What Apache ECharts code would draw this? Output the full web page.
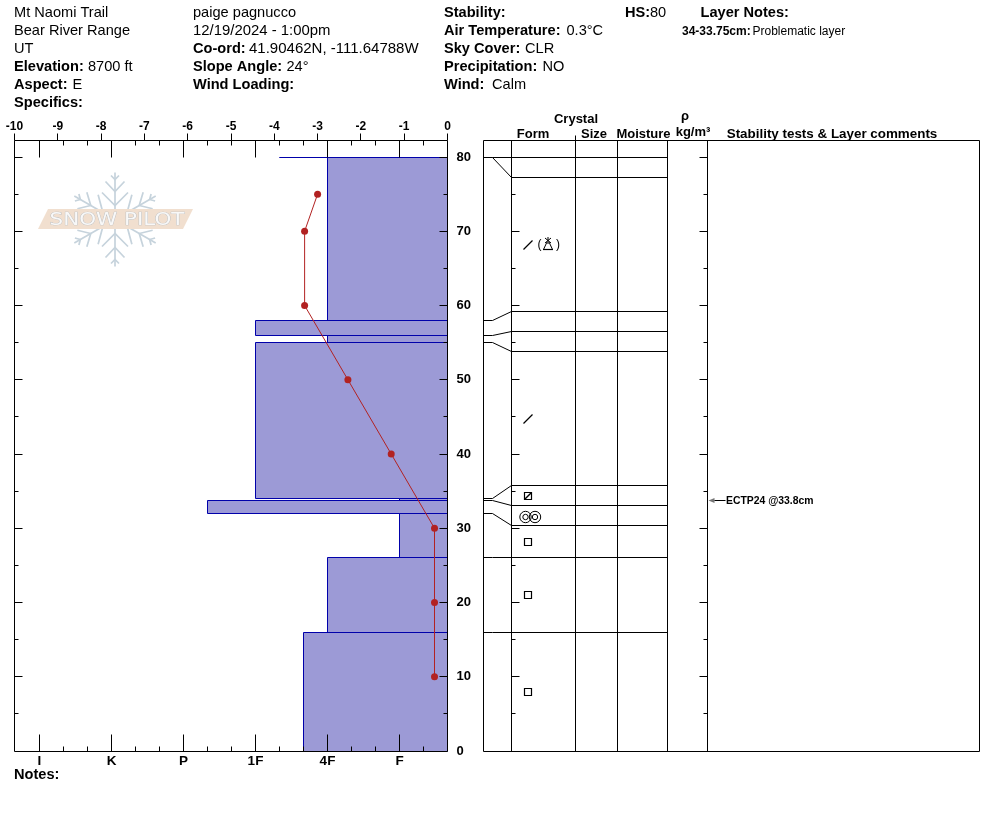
<!DOCTYPE html>
<html><head><meta charset="utf-8">
<style>html,body{margin:0;padding:0;background:#fff}#c{width:994px;height:840px}</style>
<script src="https://cdn.jsdelivr.net/npm/echarts@6/dist/echarts.min.js"></script>
</head><body><div id="c"></div>
<script>
// ---- data ----
const boundaryDepth  = [80, 80, 58, 56, 55, 34, 33.75, 32, 26, 16, 0];
const boundaryShown  = [80, 77.27, 59.2, 56.5, 53.8, 35.8, 33.1, 30.4, 26, 16, 0];
const layerHardness  = [7, 5, 8, 5, 8, 2, 10, 2, 5, 6];   // in thirds of a hand-hardness step, from the 0 edge
const layerForm      = [null, 'DF(FC)', null, null, 'DF', 'DFsq', 'SH', 'FC', 'FC', 'FC'];
const tempDepth      = [75, 70, 60, 50, 40, 30, 20, 10];
const tempValue      = [-3.0, -3.3, -3.3, -2.3, -1.3, -0.3, -0.3, -0.3];
const tempTicks      = [-10, -9, -8, -7, -6, -5, -4, -3, -2, -1, 0];
const hardnessLabels = {2:'F', 5:'4F', 8:'1F', 11:'P', 14:'K', 17:'I'};
const stabilityDepth = 33.8;
const stabilityText  = 'ECTP24 @33.8cm';

// ---- layout constants ----
const yMax = 611 / 7.425;
const hMax = 433 / 24;
const COL = {left:0, connector:9, form:28, size:92, moisture:134, density:184, comments:224, right:496};
const FILL = '#9c9ad6', EDGE = '#0000aa', RED = '#b22222', INK = '#000';
const crisp = v => Math.floor(v) + 0.5;
const FONT = '"Liberation Sans", Arial, sans-serif';

const seg = (x1, y1, x2, y2, lw, col) => ({type:'line', shape:{x1, y1, x2, y2}, style:{stroke:col||INK, lineWidth:lw||1}, silent:true});

// ---- chart ----
const layers = layerHardness.map((h, i) => [h, boundaryDepth[i], boundaryDepth[i+1]]);

function renderLayer(p, api) {
  const a = api.coord([0, api.value(1)]), b = api.coord([api.value(0), api.value(2)]);
  const x = crisp(b[0]), y1 = crisp(a[1]), y2 = crisp(b[1]), xr = crisp(a[0]);
  return {type:'group', children:[
    {type:'rect', shape:{x, y:y1, width:xr-x, height:y2-y1}, style:{fill:FILL}, silent:true},
    {type:'polyline', shape:{points:[[xr,y1],[x,y1],[x,y2],[xr,y2]]}, style:{fill:null, stroke:EDGE, lineWidth:1}, silent:true}
  ]};
}

function renderLeftFrame(p, api) {
  if (p.dataIndex > 0) return;
  const ch = [];
  const L = crisp(api.coord([hMax,0])[0]), R = crisp(api.coord([0,0])[0]);
  const B = crisp(api.coord([0,0])[1]), T = crisp(api.coord([0,yMax])[1]);
  ch.push(seg(L,T,R,T), seg(L,B,R,B), seg(L,T,L,B), seg(R,T,R,B));
  for (let d = 5; d <= 80; d += 5) {
    const y = crisp(api.coord([0,d])[1]), len = d % 10 ? 4 : 8;
    ch.push(seg(L,y,L+len,y), seg(R-len,y,R,y));
  }
  for (let h = 1; h < 18; h++) {
    const x = crisp(api.coord([h,0])[0]);
    const major = hardnessLabels[h] !== undefined;
    ch.push(seg(x,T,x,T+(major?17:5)), seg(x,B-(major?17:5),x,B));
  }
  return {type:'group', children:ch};
}

function renderTempTick(p, api) {
  const c = api.coord([api.value(0), yMax]);
  const x = crisp(c[0]), y = crisp(c[1]);
  return seg(x, y-7, x, y);
}

function renderTable(p, api) {
  if (p.dataIndex > 0) return;
  const ch = [];
  const X = k => crisp(api.coord([COL[k],0])[0]);
  const Y = d => crisp(api.coord([0,d])[1]);
  const T = Y(yMax), B = Y(0);
  ch.push(seg(X('left'),T,X('right'),T), seg(X('left'),B,X('right'),B));
  ['left','form','size','moisture','density','comments','right'].forEach(k => ch.push(seg(X(k),T,X(k),B)));
  ch.push(seg(X('size'),T-5,X('size'),T));
  for (let d = 5; d <= 80; d += 5) {
    const y = Y(d), len = d % 10 ? 4 : 8;
    ch.push(seg(X('form'),y,X('form')+len,y), seg(X('comments')-len,y,X('comments'),y));
  }
  boundaryDepth.forEach((d, i) => {
    if (d <= 0) return;
    const ya = Y(d), ys = Y(boundaryShown[i]);
    ch.push(seg(X('left'),ya,X('connector'),ya));
    ch.push({type:'polyline', shape:{points:[[X('connector'),ya],[X('form'),ys]]}, style:{fill:null,stroke:INK,lineWidth:1}, silent:true});
    ch.push(seg(X('form'),ys,X('density'),ys));
  });
  return {type:'group', children:ch};
}

function slash(x, y) { return seg(x-4.5, y+4.5, x+4.5, y-4.5, 1.2); }
function square(x, y, fill) {
  const c = [{type:'rect', shape:{x:x-3.5, y:y-3.5, width:7, height:7}, style:{fill:'#fff', stroke:INK, lineWidth:1.2}, silent:true}];
  if (fill) c.push(seg(x-3.5, y+3.5, x+3.5, y-3.5, 1.4));
  return c;
}
function ring(x, y, r) { return {type:'circle', shape:{cx:x, cy:y, r}, style:{fill:null, stroke:INK, lineWidth:1}, silent:true}; }

function renderForm(p, api) {
  const c = api.coord([api.value(0), api.value(1)]);
  const x = Math.round(c[0]), y = Math.round(c[1] + 0.4), f = layerForm[api.value(2)];
  let ch = [];
  if (f === 'DF') ch = [slash(x, y)];
  else if (f === 'DF(FC)') {
    const tx = x + 20, ty = y;
    ch = [slash(x, y),
      {type:'text', style:{text:'(', x:x+9.5, y:y, font:'12px '+FONT, verticalAlign:'middle', textAlign:'left', fill:INK}, silent:true},
      {type:'text', style:{text:')', x:x+28, y:y, font:'12px '+FONT, verticalAlign:'middle', textAlign:'left', fill:INK}, silent:true},
      seg(tx-5, ty+4.5, tx+5, ty+4.5, 1.2),
      seg(tx-4.5, ty+4.5, tx-1, ty-3), seg(tx+4.5, ty+4.5, tx+1, ty-3),
      seg(tx-3, ty-7, tx+3, ty-2), seg(tx+3, ty-7, tx-3, ty-2), seg(tx, ty-8, tx, ty-1)];
  }
  else if (f === 'FC') ch = square(x, y, false);
  else if (f === 'DFsq') ch = square(x, y, true);
  else if (f === 'SH') ch = [ring(x-2.5, y+1, 5.7), ring(x-2.5, y+1, 2.7), ring(x+7, y+1, 5.7), ring(x+7, y+1, 2.7)];
  return {type:'group', children:ch};
}

function renderStability(p, api) {
  const c = api.coord([COL.comments, api.value(0)]);
  const x = crisp(c[0]), y = crisp(c[1]);
  return {type:'group', children:[
    {type:'polygon', shape:{points:[[x+1,y],[x+7,y-2.5],[x+7,y+2.5]]}, style:{fill:'#777'}, silent:true},
    seg(x+7, y, x+18, y),
    {type:'text', style:{text:stabilityText, x:x+18.5, y:y+0.5, font:'bold 10.4px '+FONT, fill:INK, verticalAlign:'middle'}, silent:true}
  ]};
}

// ---- header and watermark text ----
const txt = (x, y, text, bold, size, align) => ({type:'text', x, y, silent:true, z:50, style:{
  text, font:(bold?'bold ':'')+(size||14.6)+'px '+FONT, fill:INK, verticalAlign:'middle', align:align||'left'}});

const headerText = [
  txt(14,13,'Mt Naomi Trail'), txt(14,31,'Bear River Range'), txt(14,49,'UT'),
  txt(14,67,'Elevation:',true), txt(88,67,'8700 ft'),
  txt(14,85,'Aspect:',true), txt(72.5,85,'E'),
  txt(14,103,'Specifics:',true),
  txt(193,13,'paige pagnucco'), txt(193,31,'12/19/2024 - 1:00pm',false,14.9),
  txt(193,49,'Co-ord:',true), txt(249,49,'41.90462N, -111.64788W',false,15),
  txt(193,67,'Slope Angle:',true), txt(286.5,67,'24°'),
  txt(193,85,'Wind Loading:',true),
  txt(444,13,'Stability:',true),
  txt(444,31,'Air Temperature:',true), txt(566.5,31,'0.3°C'),
  txt(444,49,'Sky Cover:',true), txt(525,49,'CLR'),
  txt(444,67,'Precipitation:',true), txt(542.5,67,'NO'),
  txt(444,85,'Wind:',true), txt(492,85,'Calm'),
  txt(625,13,'HS:',true), txt(650,13,'80'), txt(700.5,13,'Layer Notes:',true),
  txt(682,32,'34-33.75cm:',true,12), txt(752.5,32,'Problematic layer',false,12),
  txt(14,775,'Notes:',true),
  txt(576,119,'Crystal',true,13,'center'), txt(533,134,'Form',true,13,'center'), txt(594,134,'Size',true,13,'center'),
  txt(643.5,134,'Moisture',true,13,'center'), txt(685,116,'ρ',true,13,'center'), txt(693,132,'kg/m³',true,13,'center'),
  txt(832,134,'Stability tests & Layer comments',true,13.4,'center')
];

function flakeArm(angle) {
  const S = '#c6d3dc';
  const l = pts => ({type:'polyline', shape:{points:pts}, style:{fill:null, stroke:S, lineWidth:1.7}, silent:true});
  return {type:'group', x:115, y:219.5, rotation:angle*Math.PI/180, silent:true, z:1, children:[
    l([[0,-8],[0,-47]]),
    l([[-13,-27],[0,-14],[13,-27]]),
    l([[-9.5,-38],[0,-28],[9.5,-38]]),
    l([[-4,-44],[0,-40],[4,-44]])
  ]};
}
const watermark = [0,60,120,180,240,300].map(flakeArm).concat([
  {type:'polygon', silent:true, z:2, shape:{points:[[48,209],[193,209],[183,229],[38,229]]}, style:{fill:'#f1dfcf'}},
  {type:'text', silent:true, z:3, x:117, y:220.5, scaleX:1.26, style:{text:'SNOW PILOT', font:'17px "DejaVu Sans"', fill:'#f8f8f8', stroke:'#b9bec2', lineWidth:0.7, align:'center', verticalAlign:'middle'}}
]);

const chart = echarts.init(document.getElementById('c'), null, {renderer:'canvas'});

const labelFont = size => ({color:INK, fontSize:size, fontWeight:'bold', fontFamily:'"Liberation Sans"', hideOverlap:false});

chart.setOption({
  animation:false,
  backgroundColor:'#fff',
  textStyle:{fontFamily:'"Liberation Sans"'},
  grid:[
    {left:14.5, top:140, width:433, height:611, containLabel:false},
    {left:483, top:140, width:COL.right, height:611, containLabel:false}
  ],
  xAxis:[
    {gridIndex:0, type:'value', position:'top', min:-10, max:0, interval:1, splitLine:{show:false},
      axisLine:{show:false}, axisTick:{show:false},
      axisLabel:Object.assign({show:true, margin:7}, labelFont(12))},
    {gridIndex:0, type:'value', position:'bottom', inverse:true, min:0, max:hMax, interval:1, splitLine:{show:false},
      axisLine:{show:false}, axisTick:{show:false},
      axisLabel:Object.assign({show:true, margin:3, showMaxLabel:false, formatter:v => hardnessLabels[v] || ''}, labelFont(13.5))},
    {gridIndex:1, type:'value', min:0, max:COL.right, show:false, splitLine:{show:false}}
  ],
  yAxis:[
    {gridIndex:0, type:'value', position:'right', min:0, max:yMax, interval:10, splitLine:{show:false},
      axisLine:{show:false}, axisTick:{show:false},
      axisLabel:Object.assign({show:true, margin:9, showMaxLabel:false, padding:[2,0,0,0]}, labelFont(13))},
    {gridIndex:1, type:'value', min:0, max:yMax, show:false, splitLine:{show:false}}
  ],
  graphic:{elements:watermark.concat(headerText)},
  series:[
    {type:'custom', name:'Layers', xAxisIndex:1, yAxisIndex:0, z:5, clip:false, renderItem:renderLayer, data:layers, encode:{x:0,y:[1,2]}},
    {type:'custom', name:'Frame', xAxisIndex:1, yAxisIndex:0, z:8, clip:false, renderItem:renderLeftFrame, data:[[0,0]]},
    {type:'custom', name:'TempTicks', xAxisIndex:0, yAxisIndex:0, z:8, clip:false, renderItem:renderTempTick, data:tempTicks.map(t=>[t]), encode:{x:0}},
    {type:'line', name:'Temperature', xAxisIndex:0, yAxisIndex:0, z:10, silent:true,
      data:tempDepth.map((d,i)=>[tempValue[i],d]), symbol:'circle', symbolSize:7,
      lineStyle:{color:RED, width:1}, itemStyle:{color:RED}},
    {type:'custom', name:'Table', xAxisIndex:2, yAxisIndex:1, z:5, clip:false, renderItem:renderTable, data:[[0,0]]},
    {type:'custom', name:'Forms', xAxisIndex:2, yAxisIndex:1, z:6, clip:false, renderItem:renderForm,
      data:layerForm.map((f,i)=>f?[COL.form+17,(boundaryShown[i]+boundaryShown[i+1])/2,i]:null).filter(Boolean)},
    {type:'custom', name:'Stability', xAxisIndex:2, yAxisIndex:1, z:6, clip:false, renderItem:renderStability, data:[[stabilityDepth]], encode:{y:0}}
  ]
});
</script></body></html>
